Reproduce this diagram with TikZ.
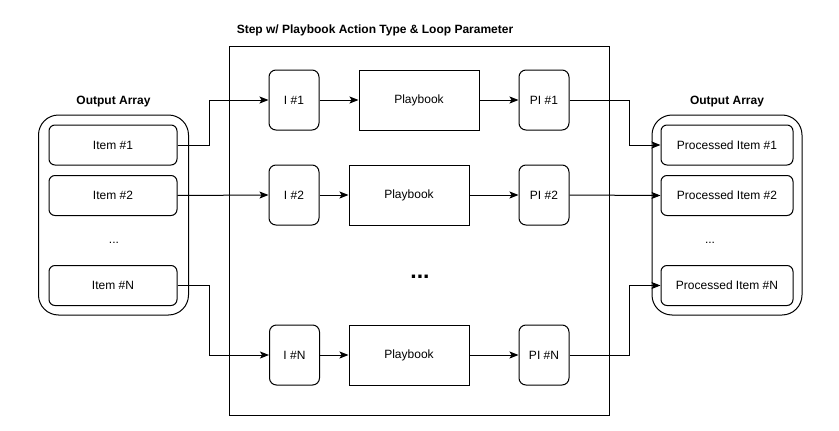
\documentclass[tikz,border=0pt]{standalone}
\usepackage{fontspec}
\setmainfont{Liberation Sans}
\usetikzlibrary{arrows.meta}
\begin{document}
\begin{tikzpicture}[x=1pt,y=-1pt,
  line width=1pt,
  box/.style={draw, rounded corners=#1, inner sep=0pt, font=\fontsize{12}{14}\selectfont},
  box/.default=6pt,
  itembox/.style={box=6pt, minimum width=128pt, minimum height=40pt},
  ibox/.style={box=7pt, minimum width=50pt, minimum height=60pt},
  pbox/.style={draw, inner sep=0pt, minimum width=120pt, minimum height=60pt, font=\fontsize{12}{14}\selectfont},
  cont/.style={draw, rounded corners=20pt, inner sep=0pt, minimum width=150pt, minimum height=200pt},
  lbl/.style={font=\bfseries\fontsize{12}{14}\selectfont, inner sep=0pt},
  txt/.style={font=\fontsize{12}{14}\selectfont, inner sep=0pt},
  conn/.style={-{Stealth[length=9pt,width=7pt,inset=2pt]}, line width=1pt}
]
\useasboundingbox (0,0) rectangle (839,431);

% left container
\node[cont] (lc) at (113.5,215) {};
\node[lbl] (ll) at (113.5,102) {Output Array};
\node[itembox] (i1) at (113,145) {Item \#1};
\node[itembox] (i2) at (113,195.5) {Item \#2};
\node[txt] (ld) at (114,243) {...};
\node[itembox] (iN) at (113,285.5) {Item \#N};

% big step box
\node[draw, inner sep=0pt, minimum width=380pt, minimum height=369pt] (step) at (419,230.5) {};
\node[lbl] (sl) at (375,30) {Step w/ Playbook Action Type \& Loop Parameter};

\node[ibox] (a1) at (294,100) {I \#1};
\node[pbox] (p1) at (419,100) {Playbook};
\node[ibox] (b1) at (544,100) {PI \#1};

\node[ibox] (a2) at (294,195) {I \#2};
\node[pbox] (p2) at (409,195) {Playbook};
\node[ibox] (b2) at (544,195) {PI \#2};

\node[font=\bfseries\fontsize{23}{25}\selectfont, inner sep=0pt] (md) at (420,277) {...};

\node[ibox] (aN) at (294.5,355) {I \#N};
\node[pbox] (pN) at (409,355) {Playbook};
\node[ibox] (bN) at (544,355) {PI \#N};

% right container
\node[cont] (rc) at (727,215) {};
\node[lbl] (rl) at (727,102) {Output Array};
\node[itembox, minimum width=132pt] (o1) at (727,145) {Processed Item \#1};
\node[itembox, minimum width=132pt] (o2) at (727,195.5) {Processed Item \#2};
\node[txt] (rd) at (710,243) {...};
\node[itembox, minimum width=132pt] (oN) at (727,285.5) {Processed Item \#N};

% connectors
\draw[conn] (i1.east) -| (209,100) -- (a1.west);
\draw[conn] (i2.east) -- (a2.west);
\draw[conn] (iN.east) -| (209,355) -- (aN.west);

\draw[conn] (a1) -- (p1);
\draw[conn] (p1) -- (b1);
\draw[conn] (a2) -- (p2);
\draw[conn] (p2) -- (b2);
\draw[conn] (aN) -- (pN);
\draw[conn] (pN) -- (bN);

\draw[conn] (b1.east) -| (629,145) -- (o1.west);
\draw[conn] (b2.east) -- (o2.west);
\draw[conn] (bN.east) -| (629,285.5) -- (oN.west);
\end{tikzpicture}
\end{document}
